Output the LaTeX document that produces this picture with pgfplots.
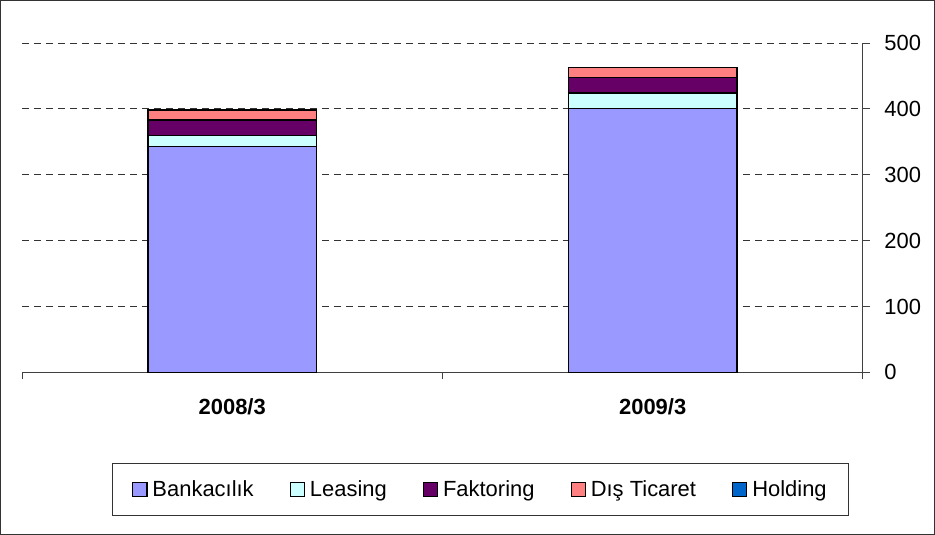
\documentclass[border=0pt]{standalone}
\usepackage{fontspec}
\setmainfont{Liberation Sans}
\usepackage{pgfplots}
\pgfplotsset{compat=1.18}
\definecolor{cBank}{HTML}{9999FF}
\definecolor{cLeas}{HTML}{CCFFFF}
\definecolor{cFakt}{HTML}{660066}
\definecolor{cDis}{HTML}{FF8080}
\definecolor{cHold}{HTML}{0066CC}
\begin{document}
\begin{tikzpicture}
\begin{axis}[name=ax, scale only axis, width=840bp, height=329bp,
  ybar stacked, bar width=0.4,
  xmin=-0.5, xmax=1.5, ymin=0, ymax=500,
  axis x line=bottom, axis y line=right,
  axis line style={-, black!75, line width=1bp},
  tick style={black!75, line width=1bp},
  tick align=outside, major tick length=7bp,
  xtick={-0.5,0.5,1.5}, xticklabels={},
  extra x ticks={0,1}, extra x tick labels={2008/3,2009/3},
  extra x tick style={major tick length=0pt,
     xticklabel style={font=\fontsize{22}{26}\selectfont\bfseries, yshift=-23bp}},
  ytick={0,100,...,500},
  yticklabel style={font=\fontsize{22}{26}\selectfont, anchor=west, xshift=11bp},
  /pgf/number format/assume math mode=true,
  ymajorgrids, major grid style={black!80, line width=0.9bp, dash pattern=on 7bp off 5bp},
  legend columns=5,
  legend style={at={(0.5452,-0.2736)}, anchor=north, draw=black!80, line width=1bp,
     font=\fontsize{22}{26}\selectfont, inner xsep=20bp, inner ysep=15.5bp,
     /tikz/every odd column/.append style={column sep=3bp},
     /tikz/every even column/.append style={column sep=34bp}},
  mybar/.style={fill=#1, draw=black, line width=1.5bp,
     legend image code/.code={\draw[fill=#1, draw=black, line width=1.2bp] (0bp,-7bp) rectangle (14bp,7bp);}},
]
\addplot[mybar=cBank] coordinates {(0,343) (1,401)};
\addplot[mybar=cLeas] coordinates {(0,17) (1,23)};
\addplot[mybar=cFakt] coordinates {(0,23) (1,24)};
\addplot[mybar=cDis] coordinates {(0,15) (1,15)};
\addplot[mybar=cHold] coordinates {(0,0) (1,0)};
\legend{Bankacılık, Leasing, Faktoring, Dış Ticaret, Holding}
\end{axis}
\draw[black!80, line width=1bp] ([shift={(-21.5bp,-161.5bp)}]ax.south west) rectangle ([shift={(71.5bp,42.5bp)}]ax.north east);
\end{tikzpicture}
\end{document}
